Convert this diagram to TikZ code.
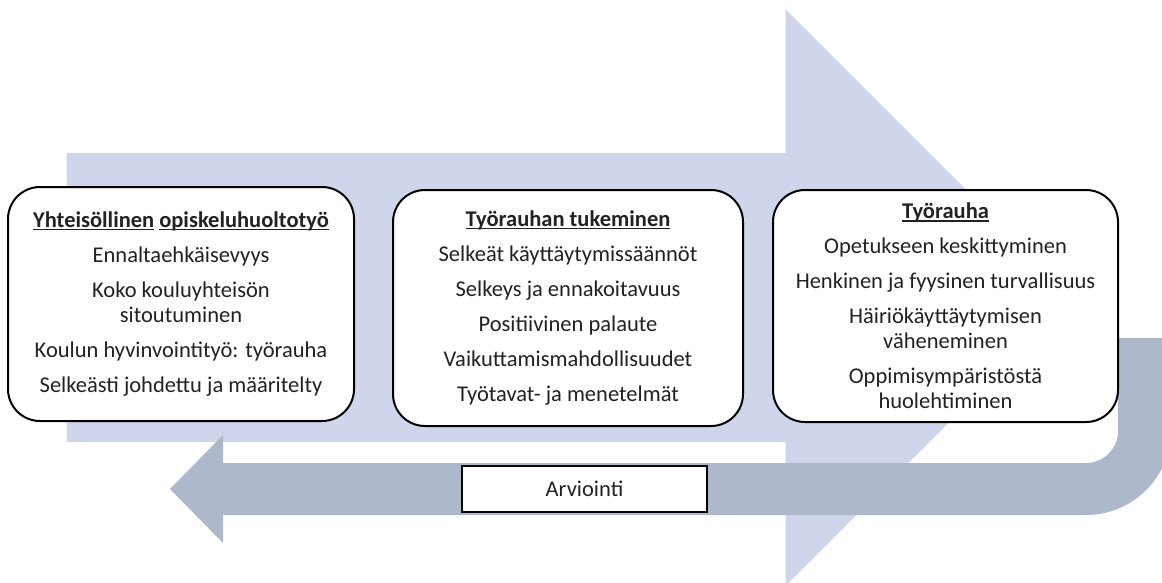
\documentclass[tikz,border=0pt]{standalone}
\usepackage{fontspec}
\setmainfont{Carlito}
\definecolor{lightarrow}{HTML}{CFD5EA}
\definecolor{darkarrow}{HTML}{ADB9CB}
\definecolor{txt}{HTML}{222222}
\newsavebox{\ulbox}
\newcommand{\myul}[1]{\sbox{\ulbox}{#1}\rlap{\rule[-3pt]{\wd\ulbox}{1.4pt}}\usebox{\ulbox}}
\begin{document}
\begin{tikzpicture}[x=1pt,y=1pt,
  card/.style={draw=black, line width=2pt, rounded corners=32pt, fill=white, align=center, inner sep=0pt, font=\fontsize{22.5}{25}\selectfont, text=txt},
  tag/.style={draw=black, line width=1.5pt, fill=white, minimum width=245pt, minimum height=46pt, inner sep=0pt, font=\fontsize{22.5}{25}\selectfont, text=txt}]
\useasboundingbox (0,0) rectangle (1162,-582);
\clip (0,0) rectangle (1162,-582);
\fill[lightarrow] (66.7,-153) -- (785.7,-153) -- (785.7,-9.3) -- (1074,-297.5) -- (785.7,-585.7) -- (785.7,-442) -- (66.7,-442) -- cycle;
\fill[darkarrow] (1118,-338) -- (1171,-338) -- (1171,-430) arc[start angle=0,end angle=-90,radius=85] -- (223,-515) -- (223,-543) -- (170,-489) -- (223,-435) -- (223,-463) -- (1086,-463) arc[start angle=-90,end angle=0,radius=32] -- cycle;
\node[card, minimum width=346pt, minimum height=234pt] (b1) at (181,-304) {\textbf{\myul{Yhteisöllinen} \myul{opiskeluhuoltotyö}}\\[10pt] Ennaltaehkäisevyys\\[10pt] Koko kouluyhteisön\\ sitoutuminen\\[10pt] Koulun hyvinvointityö: työrauha\\[10pt] Selkeästi johdettu ja määritelty};
\node[card, minimum width=350pt, minimum height=236pt] (b2) at (568,-308) {\textbf{\myul{Työrauhan tukeminen}}\\[10pt] Selkeät käyttäytymissäännöt\\[10pt] Selkeys ja ennakoitavuus\\[10pt] Positiivinen palaute\\[10pt] Vaikuttamismahdollisuudet\\[10pt] Työtavat- ja menetelmät};
\node[card, minimum width=345pt, minimum height=232pt] (b3) at (945.5,-306) {\textbf{\myul{Työrauha}}\\[10pt] Opetukseen keskittyminen\\[10pt] Henkinen ja fyysinen turvallisuus\\[10pt] Häiriökäyttäytymisen\\ väheneminen\\[10pt] Oppimisympäristöstä\\ huolehtiminen};
\node[tag] (ev) at (584.5,-489) {Arviointi};
\end{tikzpicture}
\end{document}
